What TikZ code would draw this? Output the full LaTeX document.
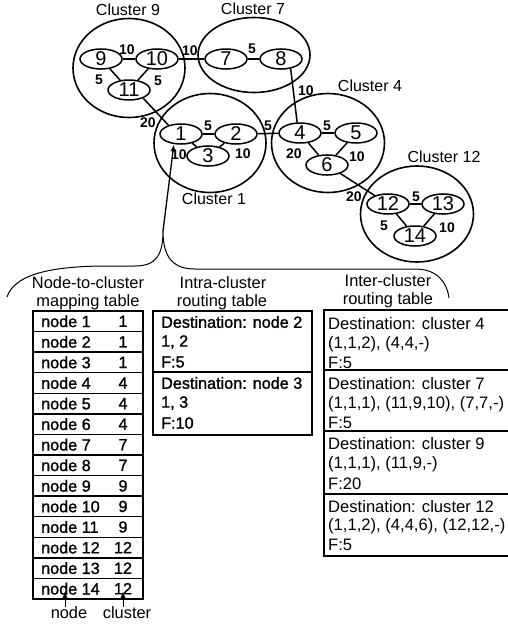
\documentclass[tikz,border=0pt]{standalone}
\usepackage{fontspec}
\setmainfont{Liberation Sans}
\newfontface\medfont{Liberation Sans}[FakeBold=1.3]
\usetikzlibrary{shapes.geometric,arrows.meta}
\begin{document}
\begin{tikzpicture}[x=1pt,y=-1pt,
  nd/.style={draw,ellipse,line width=1.5pt,minimum width=42pt,minimum height=20pt,inner sep=0pt,font=\fontsize{20}{20}\selectfont},
  cl/.style={draw,ellipse,line width=1.6pt,inner sep=0pt},
  clab/.style={font=\fontsize{16}{16}\selectfont,inner sep=0pt},
  wt/.style={font=\bfseries\fontsize{14}{14}\selectfont,inner sep=0pt},
  ed/.style={line width=1.5pt},
  hdr/.style={font=\fontsize{16.4}{16.4}\selectfont,inner sep=0pt},
  btxt/.style={font=\medfont\fontsize{16.2}{16.2}\selectfont,inner sep=0pt,anchor=west},
  rtxt/.style={font=\fontsize{16.6}{16.6}\selectfont,inner sep=0pt,anchor=west},
  bval/.style={font=\medfont\fontsize{16.2}{16.2}\selectfont,inner sep=0pt},
  arr/.style={line width=1.3pt,-{Latex[length=7pt,width=5pt]}},
  thick box/.style={line width=2.2pt},
  thin line/.style={line width=1.3pt}
]
\useasboundingbox (0,0) rectangle (508,625);

% clusters
\node[cl,minimum width=112pt,minimum height=99pt] (c9) at (129,68) {};
\node[cl,minimum width=112pt,minimum height=75pt] (c7) at (254,55) {};
\node[cl,minimum width=112pt,minimum height=99pt] (c1) at (210,143) {};
\node[cl,minimum width=113pt,minimum height=99pt] (c4) at (328,143) {};
\node[cl,minimum width=113pt,minimum height=96pt] (c12) at (417,214) {};

\node[clab] (l9) at (128,10) {Cluster 9};
\node[clab] (l7) at (253,9) {Cluster 7};
\node[clab] (l4) at (370,86) {Cluster 4};
\node[clab] (l1) at (214,199) {Cluster 1};
\node[clab] (l12) at (444,157) {Cluster 12};

% nodes
\node[nd] (n9) at (101,59) {9};
\node[nd] (n10) at (157,59) {10};
\node[nd] (n11) at (129,90) {11};
\node[nd] (n7) at (226,59) {7};
\node[nd] (n8) at (281,59) {8};
\node[nd] (n1) at (181,134) {1};
\node[nd] (n2) at (236,134) {2};
\node[nd] (n3) at (208,156) {3};
\node[nd] (n4) at (300,133) {4};
\node[nd] (n5) at (356,133) {5};
\node[nd] (n6) at (327,165) {6};
\node[nd] (n12) at (388,204) {12};
\node[nd] (n13) at (443,204) {13};
\node[nd] (n14) at (415,236) {14};

% edges
\draw[ed] (n9) -- (n10);
\draw[ed] (n9) -- (n11);
\draw[ed] (n10) -- (n11);
\draw[ed] (n10) -- (n7);
\draw[ed] (n7) -- (n8);
\draw[ed] (n8.-45) -- (n4.105);
\draw[ed] (n11.-30) -- (n1.145);
\draw[ed] (n1) -- (n2);
\draw[ed] (n1) -- (n3);
\draw[ed] (n2) -- (n3);
\draw[ed] (n2) -- (n4);
\draw[ed] (n4) -- (n5);
\draw[ed] (n4) -- (n6);
\draw[ed] (n5) -- (n6);
\draw[ed] (n6) -- (n12);
\draw[ed] (n12) -- (n13);
\draw[ed] (n12) -- (n14);
\draw[ed] (n13) -- (n14);

% weights
\node[wt] (w910) at (127,50) {10};
\node[wt] (w911) at (99,80) {5};
\node[wt] (w1011) at (158,81) {5};
\node[wt] (w107) at (190,51) {10};
\node[wt] (w78) at (252,49) {5};
\node[wt] (w84) at (306,91) {10};
\node[wt] (w111) at (148,123) {20};
\node[wt] (w12) at (208,126) {5};
\node[wt] (w13) at (179,155) {10};
\node[wt] (w23) at (243,154) {10};
\node[wt] (w24) at (268,126) {5};
\node[wt] (w45) at (327,126) {5};
\node[wt] (w46) at (294,154) {20};
\node[wt] (w56) at (357,157) {10};
\node[wt] (w612) at (354,197) {20};
\node[wt] (w1213) at (416,197) {5};
\node[wt] (w1214) at (384,226) {5};
\node[wt] (w1314) at (447,228) {10};

% brace and arrow
\coordinate (tip) at (163,231);
\draw[line width=1pt] (7,297) .. controls (14,276) and (45,267) .. (100,266)
  -- (135,266) .. controls (156,266) and (163,255) .. (tip)
  .. controls (163,256) and (172,269) .. (195,269)
  -- (415,269) .. controls (437,269) and (447,282) .. (449,298);
\draw[arr] (tip) -- (n1.-125);

% headers
\node[hdr] (h1a) at (88,283) {Node-to-cluster};
\node[hdr] (h1b) at (88,302) {mapping table};
\node[hdr] (h2a) at (223,283) {Intra-cluster};
\node[hdr] (h2b) at (222,302) {routing table};
\node[hdr] (h3a) at (388,281) {Inter-cluster};
\node[hdr] (h3b) at (388,300) {routing table};

% node-to-cluster table
\foreach \i/\c in {1/1,2/1,3/1,4/4,5/4,6/4,7/7,8/7,9/9,10/9,11/9,12/12,13/12,14/12}{
  \pgfmathsetmacro{\yc}{311+20.571*(\i-0.5)}
  \node[btxt] (mn\i) at (41,\yc) {node \i};
  \node[bval] (mc\i) at (123,\yc) {\c};
}
\foreach \i in {1,...,13}{
  \pgfmathsetmacro{\yl}{311+20.571*\i}
  \draw[thin line] (33,\yl) -- (143,\yl);
}
\node[draw,thick box,minimum width=110pt,minimum height=288pt,inner sep=0pt] (maptab) at (88,455) {};

\node[hdr] (lnode) at (69,613) {node};
\node[hdr] (lclus) at (127,613) {cluster};
\coordinate (nodetip) at (65,591);
\coordinate (clustip) at (123,591);
\draw[arr,line width=1pt] (lnode.north -| nodetip) -- (nodetip);
\draw[arr,line width=1pt] (lclus.north -| clustip) -- (clustip);

% intra-cluster table
\node[draw,thick box,minimum width=159pt,minimum height=124pt,inner sep=0pt] (intratab) at (232.5,373) {};
\draw[thin line] (153,372) -- (312,372);
\node[btxt] (i1) at (161,322) {Destination: node 2};
\node[btxt] (i2) at (161,342) {1, 2};
\node[btxt] (i3) at (161,362) {F:5};
\node[btxt] (i4) at (161,383) {Destination: node 3};
\node[btxt] (i5) at (161,403) {1, 3};
\node[btxt] (i6) at (161,423) {F:10};

% inter-cluster table
\draw[thin line] (508,310) -- (324,310) -- (324,556) -- (508,556);
\draw[thin line] (324,370) -- (508,370);
\draw[thin line] (324,431) -- (508,431);
\draw[thin line] (324,494) -- (508,494);
\node[rtxt] (e1) at (328,324) {Destination: cluster 4};
\node[rtxt] (e2) at (328,344) {(1,1,2), (4,4,-)};
\node[rtxt] (e3) at (328,363) {F:5};
\node[rtxt] (e4) at (328,384) {Destination: cluster 7};
\node[rtxt] (e5) at (328,404) {(1,1,1), (11,9,10), (7,7,-)};
\node[rtxt] (e6) at (328,423) {F:5};
\node[rtxt] (e7) at (328,444) {Destination: cluster 9};
\node[rtxt] (e8) at (328,464) {(1,1,1), (11,9,-)};
\node[rtxt] (e9) at (328,484) {F:20};
\node[rtxt] (e10) at (328,507) {Destination: cluster 12};
\node[rtxt] (e11) at (328,526) {(1,1,2), (4,4,6), (12,12,-)};
\node[rtxt] (e12) at (328,545) {F:5};
\end{tikzpicture}
\end{document}
